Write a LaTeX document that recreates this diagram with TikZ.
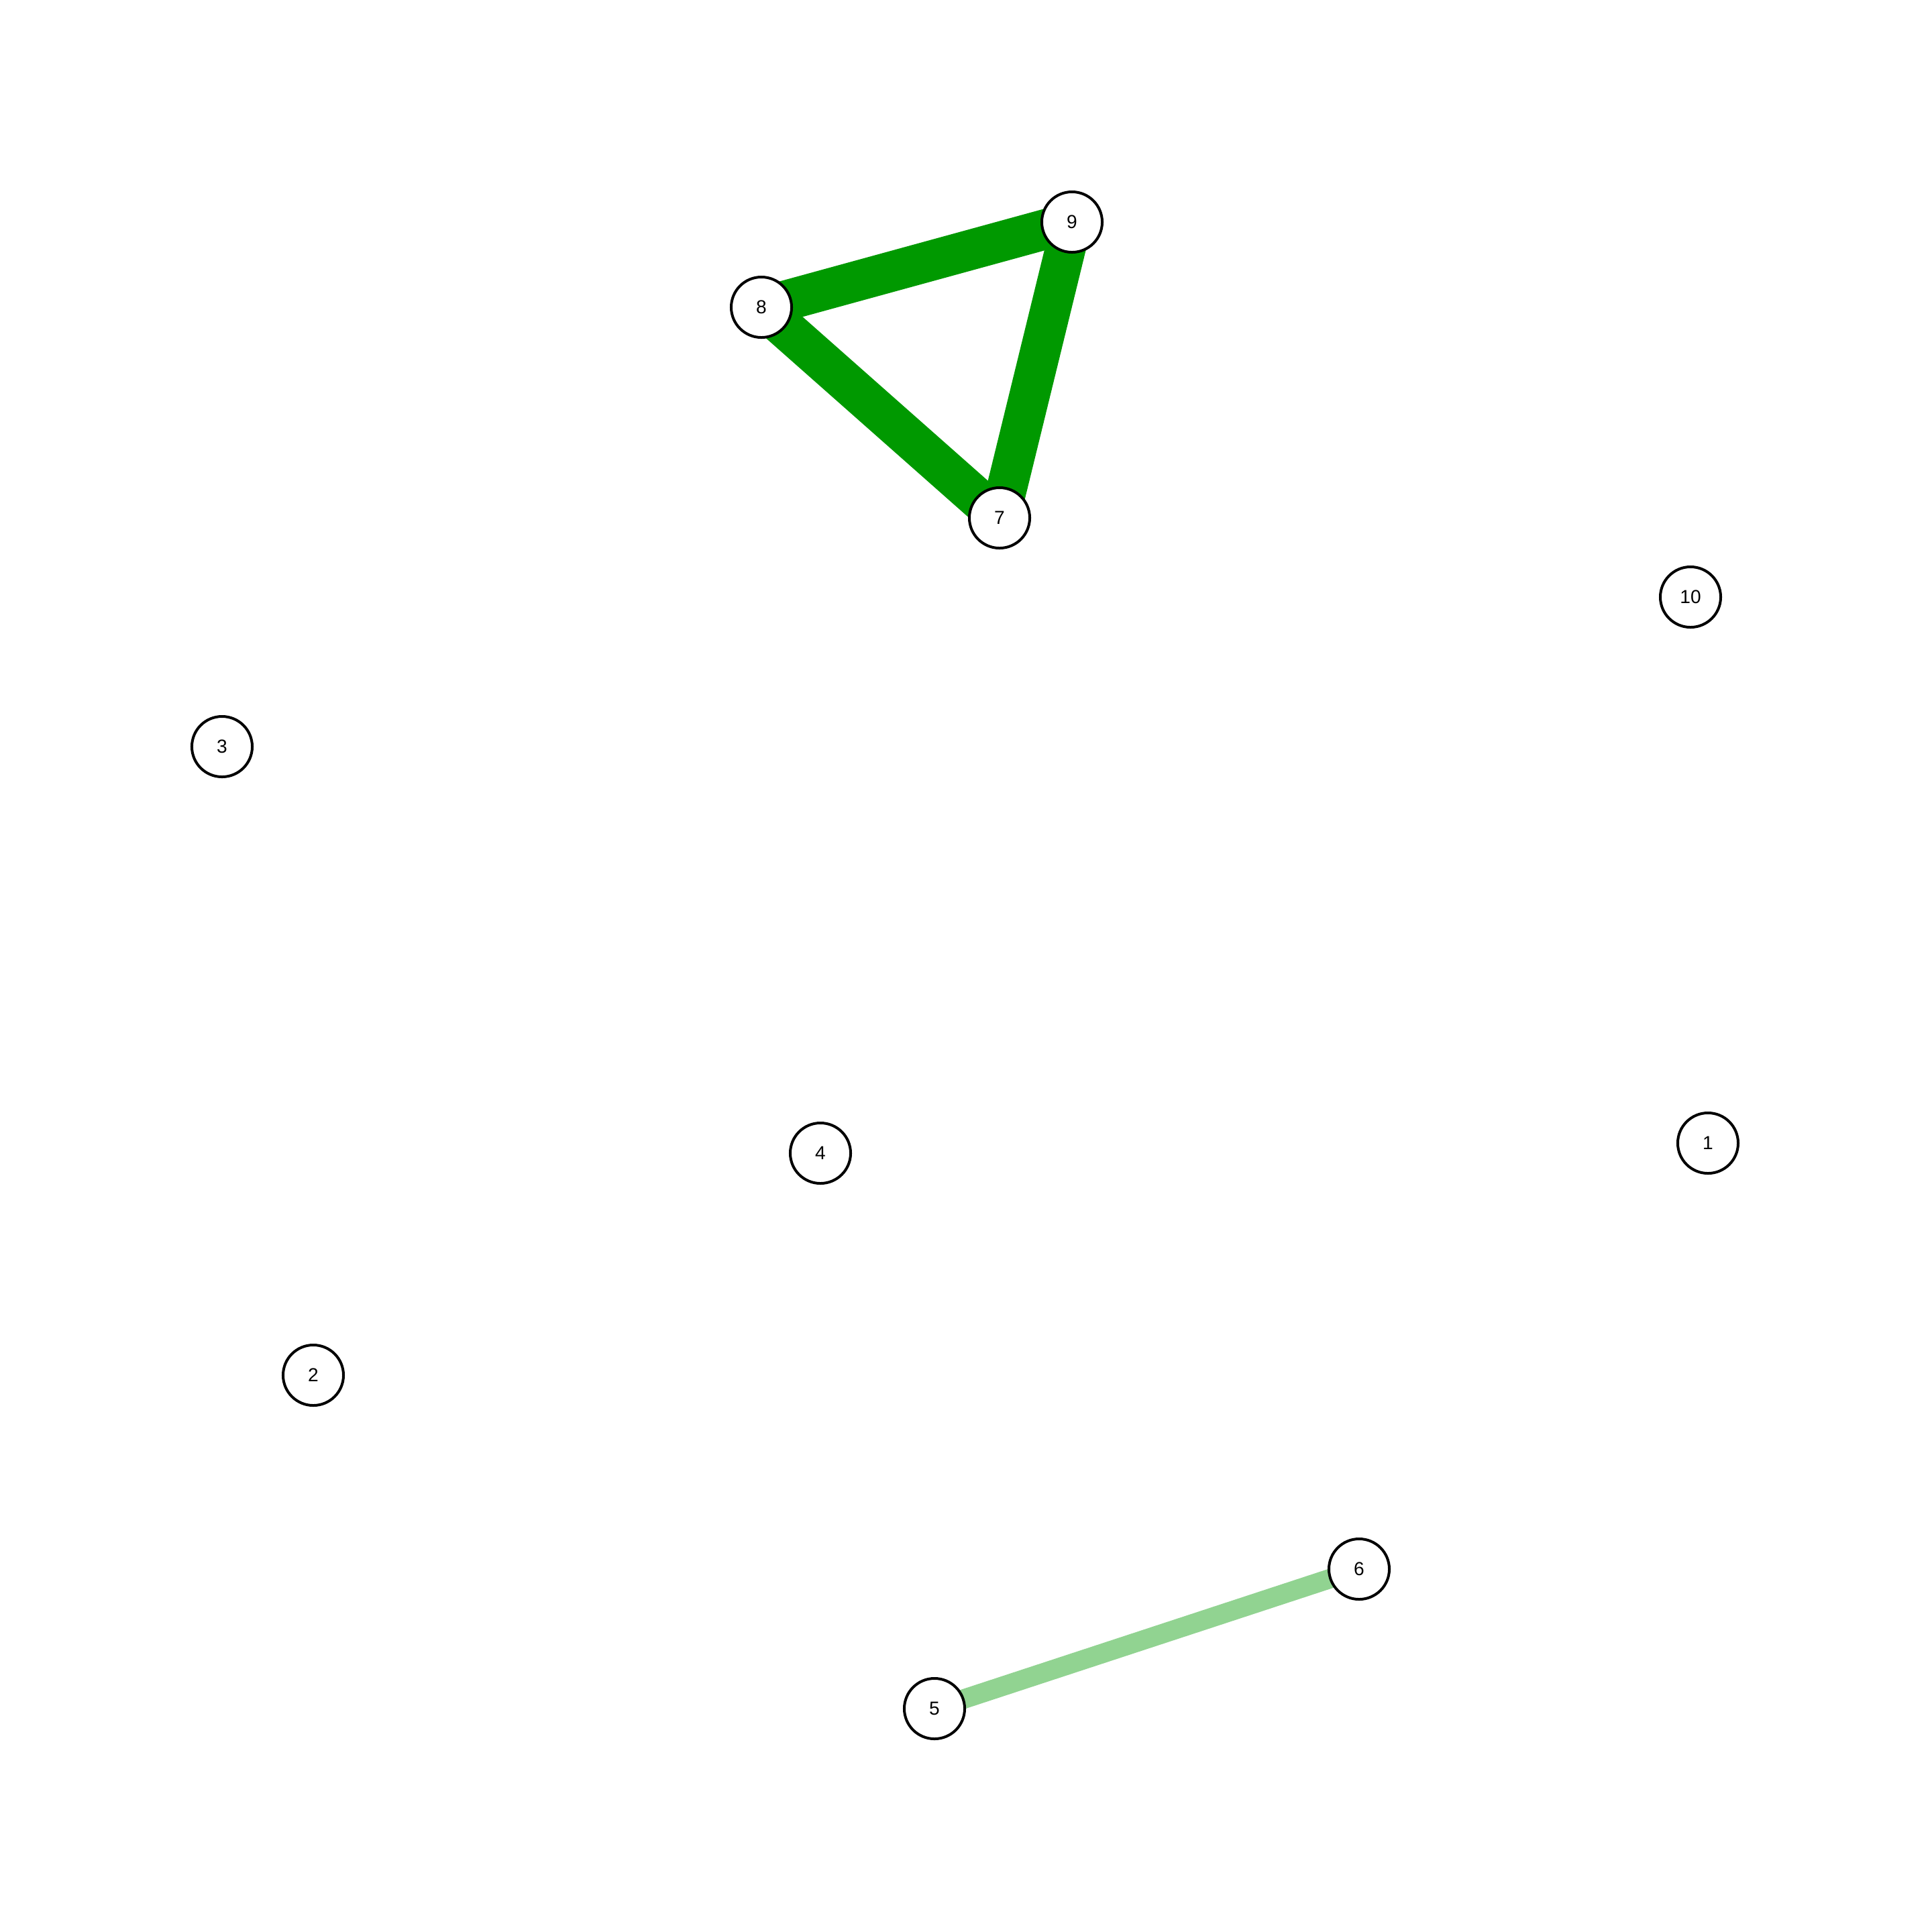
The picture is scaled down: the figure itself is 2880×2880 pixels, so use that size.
\documentclass[tikz,border=0pt]{standalone}
\usepackage{fontspec}
\setmainfont{Liberation Sans}
\usetikzlibrary{backgrounds}
\definecolor{darkedge}{RGB}{0,153,0}
\definecolor{lightedge}{RGB}{145,211,145}
\tikzset{
  vertex/.style={circle, draw=black, fill=white, line width=0.04cm, minimum size=0.90cm, inner sep=0pt, font=\fontsize{8}{9}\selectfont},
  strongedge/.style={draw=darkedge, line width=0.60cm},
  weakedge/.style={draw=lightedge, line width=0.29cm}
}
\begin{document}
\begin{tikzpicture}[x=0.01cm, y=-0.01cm]
\useasboundingbox (0,0) rectangle (2880,2880);
\node[vertex] (n1) at (2546,1704) {1};
\node[vertex] (n2) at (467,2050) {2};
\node[vertex] (n3) at (331,1113) {3};
\node[vertex] (n4) at (1223,1719) {4};
\node[vertex] (n5) at (1393,2547) {5};
\node[vertex] (n6) at (2026,2339) {6};
\node[vertex] (n7) at (1490,772) {7};
\node[vertex] (n8) at (1135,458) {8};
\node[vertex] (n9) at (1598,331) {9};
\node[vertex] (n10) at (2520,890) {10};
\begin{scope}[on background layer]
\fill[white] (0,0) rectangle (2880,2880);
\draw[strongedge] (n8.center) -- (n9.center);
\draw[strongedge] (n9.center) -- (n7.center);
\draw[strongedge] (n7.center) -- (n8.center);
\draw[weakedge] (n5.center) -- (n6.center);
\end{scope}
\end{tikzpicture}
\end{document}
